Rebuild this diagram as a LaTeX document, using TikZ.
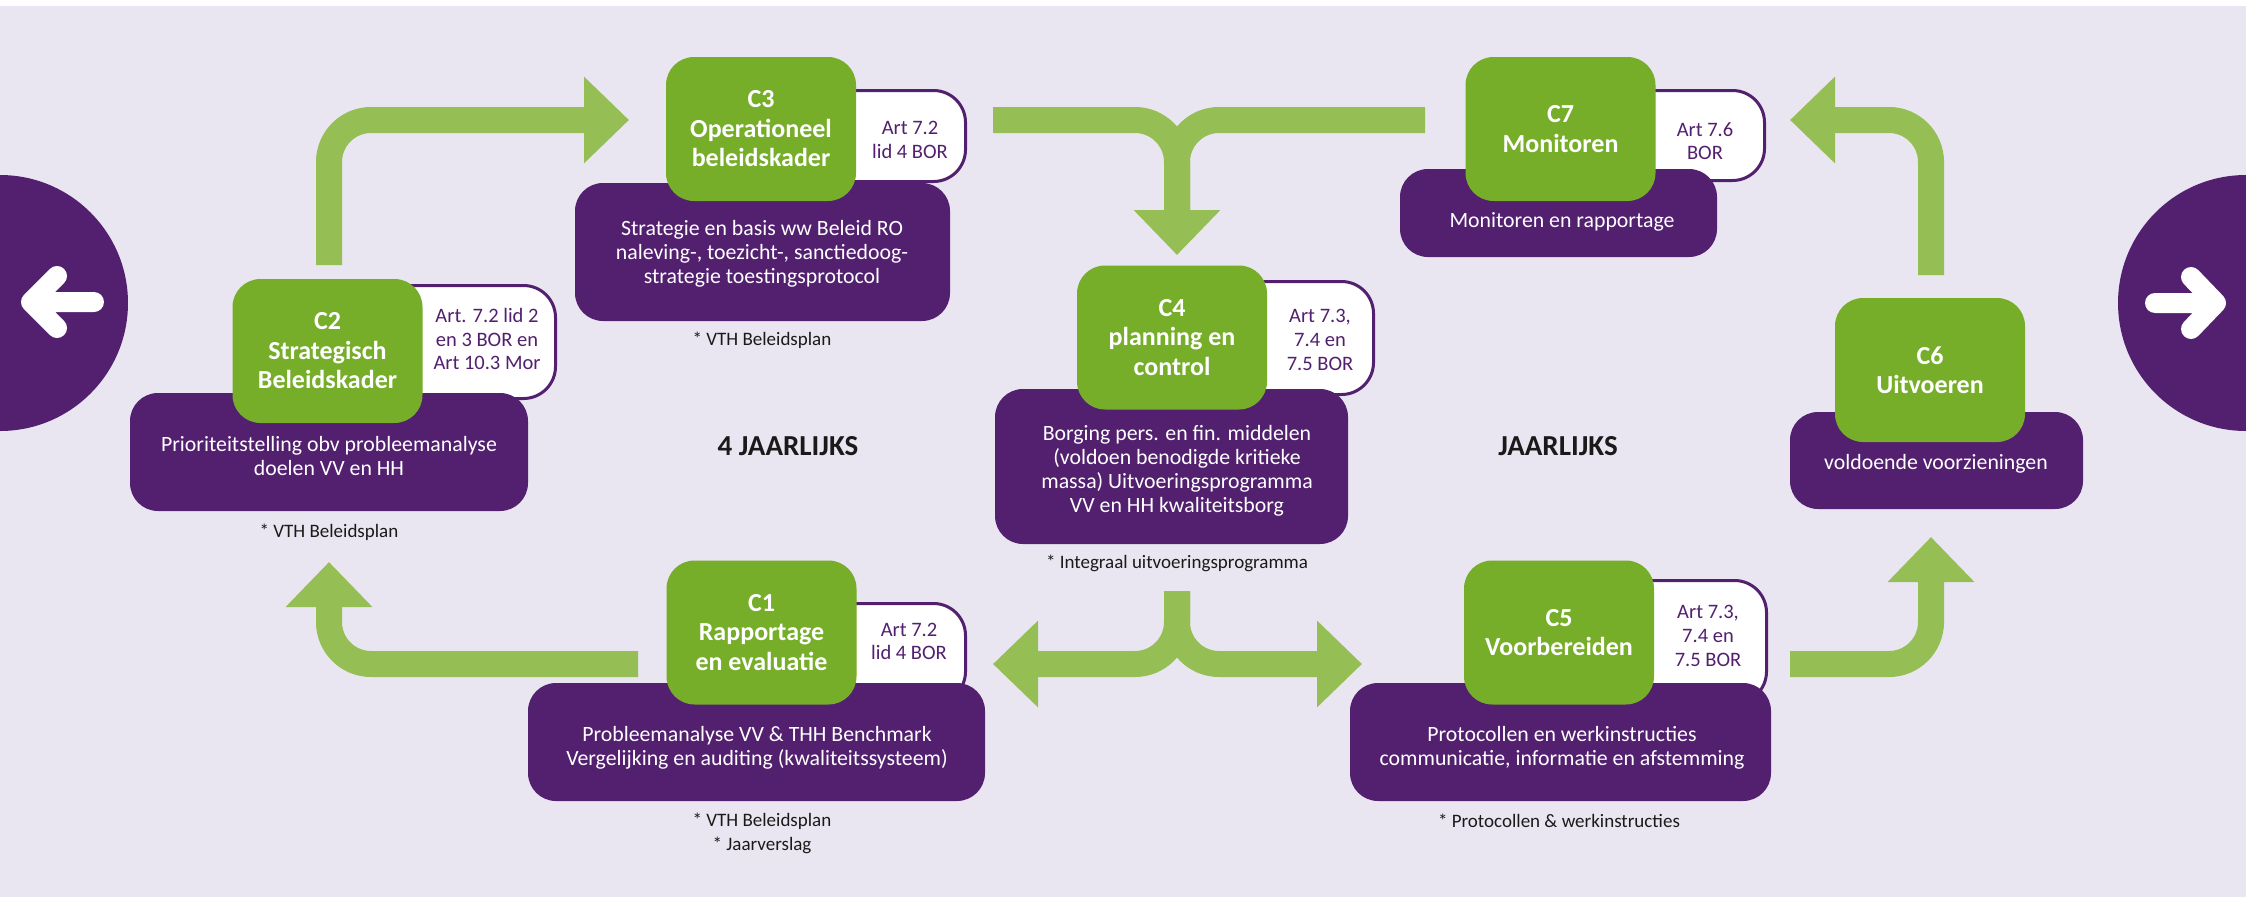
\documentclass[tikz,border=0pt]{standalone}
\usepackage{fontspec}
\setmainfont{Carlito}
\usetikzlibrary{arrows.meta}
\definecolor{bgc}{HTML}{E9E6F1}
\definecolor{pur}{HTML}{52206F}
\definecolor{dgr}{HTML}{76AD29}
\definecolor{lgr}{HTML}{95BE55}
\definecolor{ink}{HTML}{1A1A1A}
\begin{document}
\begin{tikzpicture}[x=1pt,y=-1pt,
  gbox/.style={fill=dgr, rounded corners=28pt, minimum width=190pt, minimum height=144pt, inner sep=0pt},
  pbox/.style={fill=pur, rounded corners=28pt, inner sep=0pt},
  abox/.style={fill=white, draw=pur, line width=3pt, rounded corners=32pt, inner sep=0pt},
  gtitle/.style={text=white, font=\fontsize{26}{29.5}\selectfont\bfseries, align=center, inner sep=0pt},
  ptext/.style={text=white, font=\fontsize{21.8}{24}\selectfont, align=center, inner sep=0pt},
  atext/.style={text=pur, font=\fontsize{20.5}{23.7}\selectfont, align=center, inner sep=0pt},
  note/.style={text=ink, font=\fontsize{19}{24}\selectfont, align=center, inner sep=0pt},
  period/.style={text=ink, font=\fontsize{29}{32}\selectfont\bfseries, inner sep=0pt},
  flow/.style={draw=lgr, line width=26pt, rounded corners=42pt},
  flowtip/.style={-{Triangle[length=45pt,width=84pt]}},
  side/.style={circle, fill=pur, minimum size=256pt, inner sep=0pt},
  sidearrow/.style={draw=white, line width=20pt, line cap=round, line join=round},
]
\useasboundingbox (0,0) rectangle (2246,897);
\fill[bgc] (0,6) rectangle (2246,897);

% side circles
\node[side] (lc) at (0,303) {};
\node[side] (rc) at (2246,303) {};
\draw[sidearrow] (57,276) -- (31,302) -- (57,328) (31,302) -- (94,302);
\draw[sidearrow] (2191,277) -- (2216,303) -- (2191,329) (2216,303) -- (2155,303);

% arrow end points
\coordinate (s23) at (329,265);
\coordinate (t23) at (629,120);
\coordinate (s34l) at (993,120);
\coordinate (s34r) at (1425,120);
\coordinate (j34) at (1177,212);
\coordinate (t34) at (1177,255);
\coordinate (s4) at (1177,591);
\coordinate (t41) at (993,664);
\coordinate (t45) at (1362,664);
\coordinate (s56) at (1790,664);
\coordinate (t56) at (1931,537);
\coordinate (s67) at (1931,275);
\coordinate (t67) at (1790,120);
\coordinate (s12) at (638,664);
\coordinate (t12) at (329,562);

\draw[flow, flowtip] (s23) |- (t23);
\draw[flow, flowtip] (s34l) -| (t34);
\draw[flow] (s34r) -| (j34);
\draw[flow, flowtip] (s4) |- (t41);
\draw[flow, flowtip] (s4) |- (t45);
\draw[flow, flowtip] (s56) -| (t56);
\draw[flow, flowtip] (s67) |- (t67);
\draw[flow, flowtip] (s12) -| (t12);

% article boxes
\node[abox, minimum width=174pt, minimum height=113pt] (a2) at (468.5,342) {};
\node[abox, minimum width=154pt, minimum height=91pt] (a3) at (888.5,136) {};
\node[abox, minimum width=152pt, minimum height=113pt] (a4) at (1297.5,338) {};
\node[abox, minimum width=153pt, minimum height=90pt] (a7) at (1688,135.5) {};
\node[abox, minimum width=155pt, minimum height=123pt] (a5) at (1689,642) {};
\node[abox, minimum width=154pt, minimum height=100pt] (a1) at (888.5,653.5) {};

% purple boxes
\node[pbox, minimum width=398pt, minimum height=118pt] (p2) at (329,452) {};
\node[pbox, minimum width=375pt, minimum height=138pt] (p3) at (762.5,252) {};
\node[pbox, minimum width=353pt, minimum height=155pt] (p4) at (1171.5,466.5) {};
\node[pbox, minimum width=317pt, minimum height=88pt] (p7) at (1558.5,213) {};
\node[pbox, minimum width=293pt, minimum height=97pt] (p6) at (1936.5,460.5) {};
\node[pbox, minimum width=421pt, minimum height=118pt] (p5) at (1560.5,742) {};
\node[pbox, minimum width=457pt, minimum height=118pt] (p1) at (756.5,742) {};

% green boxes
\node[gbox] (g2) at (327.5,351) {};
\node[gbox] (g3) at (761,129) {};
\node[gbox] (g4) at (1172,337.5) {};
\node[gbox] (g7) at (1560.5,129) {};
\node[gbox] (g6) at (1930,370) {};
\node[gbox] (g5) at (1559,632.5) {};
\node[gbox] (g1) at (761.5,632.5) {};

% titles
\node[gtitle] (g2t) at (g2) {C2\\Strategisch\\Beleidskader};
\node[gtitle] (g3t) at (g3) {C3\\Operationeel\\beleidskader};
\node[gtitle] (g4t) at (g4) {C4\\planning en\\control};
\node[gtitle] (g7t) at (g7) {C7\\Monitoren};
\node[gtitle] (g6t) at (g6) {C6\\Uitvoeren};
\node[gtitle] (g5t) at (g5) {C5\\Voorbereiden};
\node[gtitle] (g1t) at (g1) {C1\\Rapportage\\en evaluatie};

% article texts
\node[atext] (a2t) at (487,339) {Art. 7.2 lid 2\\en 3 BOR en\\Art 10.3 Mor};
\node[atext] (a3t) at (910,140) {Art 7.2\\lid 4 BOR};
\node[atext] (a4t) at (1320,340) {Art 7.3,\\7.4 en\\7.5 BOR};
\node[atext] (a7t) at (1705,141) {Art 7.6\\BOR};
\node[atext] (a5t) at (1708,636) {Art 7.3,\\7.4 en\\7.5 BOR};
\node[atext] (a1t) at (909,641.5) {Art 7.2\\lid 4 BOR};

% purple texts
\node[ptext] (p2t) at (329,455.5) {Prioriteitstelling obv probleemanalyse\\doelen VV en HH};
\node[ptext] (p3t) at (762,253.5) {Strategie en basis ww Beleid RO\\naleving-, toezicht-, sanctiedoog-\\strategie toestingsprotocol};
\node[ptext] (p4t) at (1177,471) {Borging pers. en fin. middelen\\(voldoen benodigde kritieke\\massa) Uitvoeringsprogramma\\VV en HH kwaliteitsborg};
\node[ptext] (p7t) at (1562,222) {Monitoren en rapportage};
\node[ptext] (p6t) at (1936,464) {voldoende voorzieningen};
\node[ptext] (p5t) at (1562,748) {Protocollen en werkinstructies\\communicatie, informatie en afstemming};
\node[ptext] (p1t) at (757,748) {Probleemanalyse VV \& THH Benchmark\\Vergelijking en auditing (kwaliteitssysteem)};

% notes
\node[note] (n2) at (329,532) {* VTH Beleidsplan};
\node[note] (n3) at (762,340) {* VTH Beleidsplan};
\node[note] (n4) at (1177,563) {* Integraal uitvoeringsprogramma};
\node[note] (n5) at (1559,821) {* Protocollen \& werkinstructies};
\node[note] (n1) at (762,833) {* VTH Beleidsplan\\* Jaarverslag};

% periods
\node[period] (q4) at (788,446) {4 JAARLIJKS};
\node[period] (q1) at (1558,446) {JAARLIJKS};
\end{tikzpicture}
\end{document}
